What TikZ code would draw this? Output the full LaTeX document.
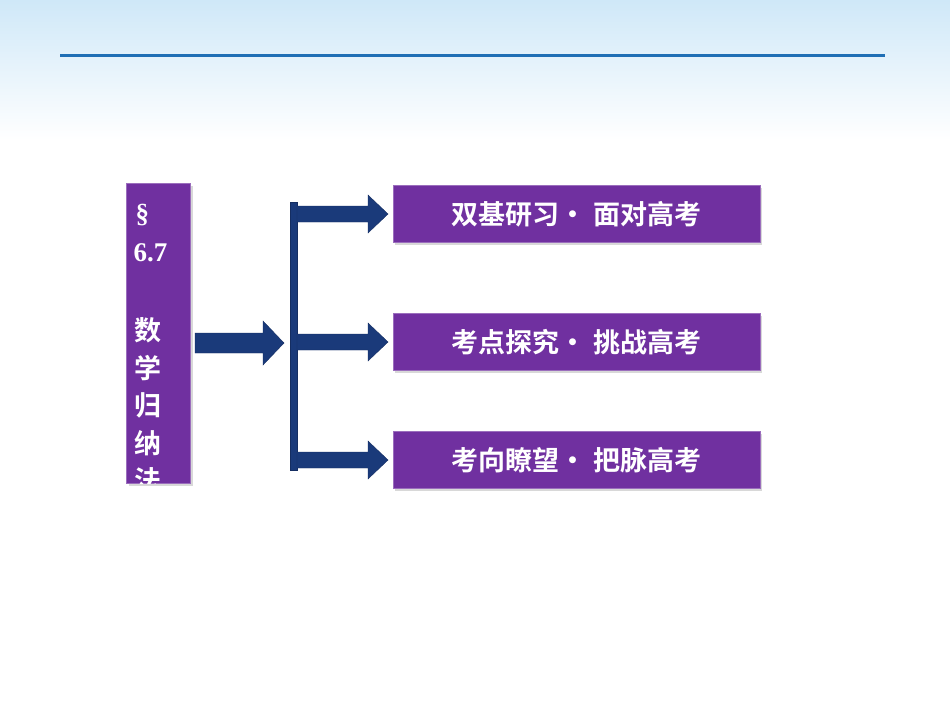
\documentclass[tikz,border=0pt]{standalone}
\usepackage{fontspec}
\usetikzlibrary{shadows}
\setmainfont{Liberation Serif}
\newfontfamily\cjk{Noto Sans CJK SC}[BoldFont={* Bold}]
\definecolor{purp}{HTML}{7030A0}
\definecolor{navy}{HTML}{1A3A7A}
\definecolor{lineblue}{HTML}{1F6FB5}
\definecolor{sky}{HTML}{CFE8F8}
\begin{document}
\begin{tikzpicture}[x=1pt,y=-1pt,
  pbox/.style={fill=purp,draw=purp!70!white,line width=1pt,drop shadow={opacity=0.3}},
  fat/.style={fill=navy,draw=navy!80!black},
  lbl/.style={text=white,font=\cjk\bfseries\fontsize{27}{30}\selectfont}]
\useasboundingbox (0,0) rectangle (950,713);
\shade[top color=sky,bottom color=white] (0,0) rectangle (950,140);
\fill[white] (0,140) rectangle (950,713);
\draw[lineblue,line width=3pt] (60,55) -- (885,55);
% left box
\node[pbox,draw,minimum width=64pt,minimum height=300pt,anchor=north west,inner sep=0] (L) at (126,183) {};
\begin{scope}
\clip (126,183) rectangle (190,483);
\node[text=white,font=\bfseries\fontsize{27}{30}\selectfont,anchor=west] (s1) at (132,215) {\S};
\node[text=white,font=\bfseries\fontsize{27}{30}\selectfont,anchor=west] (s2) at (130,253) {6.7};
\foreach \c/\y [count=\i] in {数/330,学/368,归/405,纳/443,法/480}
  \node[text=white,font=\cjk\bfseries\fontsize{27}{30}\selectfont] (c\i) at (148,\y) {\c};
\end{scope}
% big arrow
\fill[fat] (195,333) -- (263,333) -- (263,321) -- (284,343) -- (263,365) -- (263,353) -- (195,353) -- cycle;
% bar
\fill[fat] (290,202) rectangle (297,470);
% boxes
\foreach \y/\t/\n in {214/双基研习\textbullet\ 面对高考/b1,342/考点探究\textbullet\ 挑战高考/b2,460/考向瞭望\textbullet\ 把脉高考/b3}{
  \node[pbox,draw,minimum width=367pt,minimum height=57pt,inner sep=0] (\n) at (576.5,\y) {};
  \node[lbl] at (\n) {\t};
  \fill[fat] (297,\y-8) -- (368,\y-8) -- (368,\y-19) -- (388,\y) -- (368,\y+19) -- (368,\y+8) -- (297,\y+8) -- cycle;
}
\end{tikzpicture}
\end{document}
